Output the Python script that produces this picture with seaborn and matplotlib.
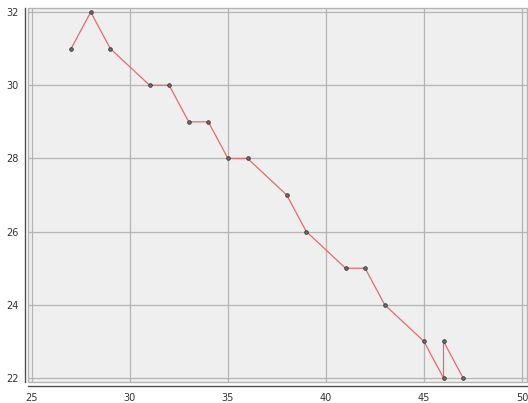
import matplotlib
matplotlib.use("Agg")
import matplotlib.pyplot as plt
from matplotlib.ticker import MultipleLocator
from matplotlib.patches import Rectangle
import seaborn as sns
import pandas as pd

# Data (in drawing order)
x_vals = [27, 28, 29, 31, 32, 33, 34, 35, 36, 38, 39, 41, 42, 43, 45, 46, 46, 47]
y_vals = [31, 32, 31, 30, 30, 29, 29, 28, 28, 27, 26, 25, 25, 24, 23, 22, 23, 22]

data = pd.DataFrame({"x": x_vals, "y": y_vals})

sns.set_style("white")
plt.rcParams["font.family"] = ["DejaVu Sans"]

fig = plt.figure(figsize=(5.28, 4.03), dpi=100)
ax = fig.add_axes([28 / 528, 1 - 382 / 403, 499 / 528, 374 / 403])
ax.set_facecolor("#efefef")

sns.lineplot(data=data, x="x", y="y", sort=False, estimator=None, ax=ax,
             color="#e86a6a", linewidth=0.9, marker="o", markersize=2.6,
             markerfacecolor="#707070", markeredgecolor="#333333",
             markeredgewidth=0.6, zorder=3)

ax.set_xlim(24.8, 50.26)
ax.set_ylim(21.89, 32.11)

ax.xaxis.set_major_locator(MultipleLocator(5))
ax.xaxis.set_minor_locator(MultipleLocator(1))
ax.yaxis.set_major_locator(MultipleLocator(2))
ax.yaxis.set_minor_locator(MultipleLocator(0.5))

ax.grid(True, which="major", color="#b4b4b4", linewidth=0.9, zorder=1)
ax.set_axisbelow(True)

ax.set_xlabel("")
ax.set_ylabel("")

for side in ["top", "right"]:
    ax.spines[side].set_visible(False)
ax.spines["left"].set_position(("outward", 2))
ax.spines["bottom"].set_position(("outward", 3))
for side in ["left", "bottom"]:
    ax.spines[side].set_color("#505050")
    ax.spines[side].set_linewidth(1.0)

# light border around the plot area
ax.add_patch(Rectangle((0, 0), 1, 1, transform=ax.transAxes, fill=False,
                       edgecolor="#b4b4b4", linewidth=1.0, clip_on=False, zorder=2))

ax.tick_params(axis="both", which="major", direction="out", length=4,
               width=1.0, color="#505050", labelsize=7, labelcolor="#333333", pad=1)
ax.tick_params(axis="both", which="minor", direction="out", length=2.5,
               width=1.0, color="#505050")

fig.savefig("out.png", dpi=100)
